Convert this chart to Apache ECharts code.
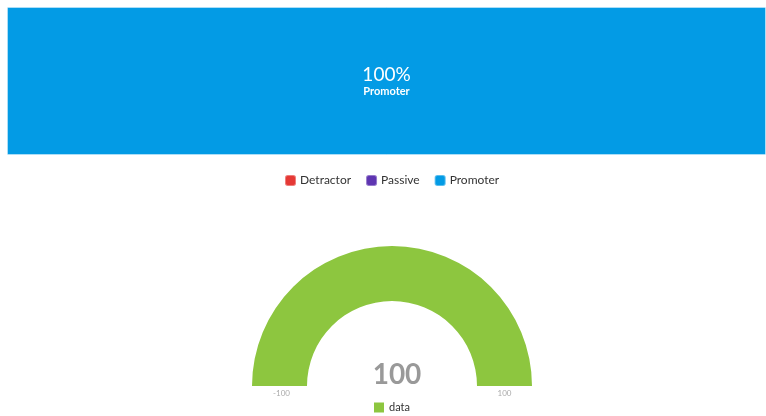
<!DOCTYPE html>
<html><head><meta charset="utf-8">
<script src="https://cdn.jsdelivr.net/npm/echarts@6/dist/echarts.min.js"></script>
<style>html,body{margin:0;padding:0;background:#fff}#c{width:766px;height:416px}</style>
</head><body><div id="c"></div>
<script>
const npsCategories = ['NPS'];
const npsSeriesNames = ['Detractor', 'Passive', 'Promoter'];
const npsValues = [0, 0, 100];
const npsColors = ['#e53935', '#5e35b1', '#039be5'];
const gaugeName = 'data';
const gaugeValue = 100;
const gaugeMin = -100;
const gaugeMax = 100;
const gaugeTickLabels = ['-100', '100'];

const chart = echarts.init(document.getElementById('c'));
const font = 'Lato, "Open Sans", sans-serif';
const cx = 392, cy = 386, rOut = 140, rIn = 85;

const barSeries = npsSeriesNames.map((n, i) => ({
  name: n, type: 'bar', stack: 'nps', xAxisIndex: 0, yAxisIndex: 0,
  barWidth: '100%',
  itemStyle: { color: npsColors[i], borderColor: 'rgba(255,255,255,0.35)', borderWidth: 1 },
  label: {
    show: npsValues[i] > 0, position: 'inside',
    formatter: p => '{v|' + p.value + '%}\n{n|' + p.seriesName + '}',
    rich: {
      v: { color: '#fff', fontSize: 19, fontFamily: font, lineHeight: 20 },
      n: { color: '#fff', fontSize: 11, fontWeight: 'bold', fontFamily: font, lineHeight: 12 }
    }
  },
  data: [npsValues[i]]
}));

const filled = gaugeValue - gaugeMin;
const empty = gaugeMax - gaugeValue;
const hidden = gaugeMax - gaugeMin;

chart.setOption({
  animation: false,
  color: npsColors,
  legend: [{
    data: npsSeriesNames, top: 169, left: 279, itemWidth: 11, itemHeight: 11,
    icon: 'roundRect', itemGap: 14,
    textStyle: { fontFamily: font, fontSize: 12, color: '#333', padding: [0, 0, 0, -1] }
  }, {
    data: [gaugeName], top: 397, left: 369, itemWidth: 10, itemHeight: 10, icon: 'rect',
    textStyle: { fontFamily: font, fontSize: 11, color: '#333' }
  }],
  grid: { left: 7, right: 0, top: 7, height: 148 },
  xAxis: { type: 'value', max: 100, show: false },
  yAxis: { type: 'category', data: npsCategories, show: false },
  title: {
    text: String(gaugeValue), left: cx, top: cy - 30, textAlign: 'center',
    textStyle: { fontFamily: font, fontSize: 28, fontWeight: 'bold', color: '#999' }
  },
  graphic: [
    { type: 'text', x: (cx - (rOut + rIn) / 2) + 2, y: cy + 7, style: { text: gaugeTickLabels[0], fill: '#aaa', fontSize: 8, fontFamily: font, align: 'center', verticalAlign: 'middle' } },
    { type: 'text', x: (cx + (rOut + rIn) / 2), y: cy + 7, style: { text: gaugeTickLabels[1], fill: '#aaa', fontSize: 8, fontFamily: font, align: 'center', verticalAlign: 'middle' } }
  ],
  series: barSeries.concat([{
    name: 'gauge', type: 'pie', center: [cx, cy], radius: [rIn, rOut],
    startAngle: 180, clockwise: true, silent: true,
    label: { show: false }, labelLine: { show: false },
    data: [
      { name: gaugeName, value: filled, itemStyle: { color: '#8dc63f' } },
      { name: 'rest', value: empty, itemStyle: { color: '#e0e0e0' } },
      { name: 'hidden', value: hidden, itemStyle: { color: 'rgba(0,0,0,0)' } }
    ]
  }])
});
</script></body></html>
